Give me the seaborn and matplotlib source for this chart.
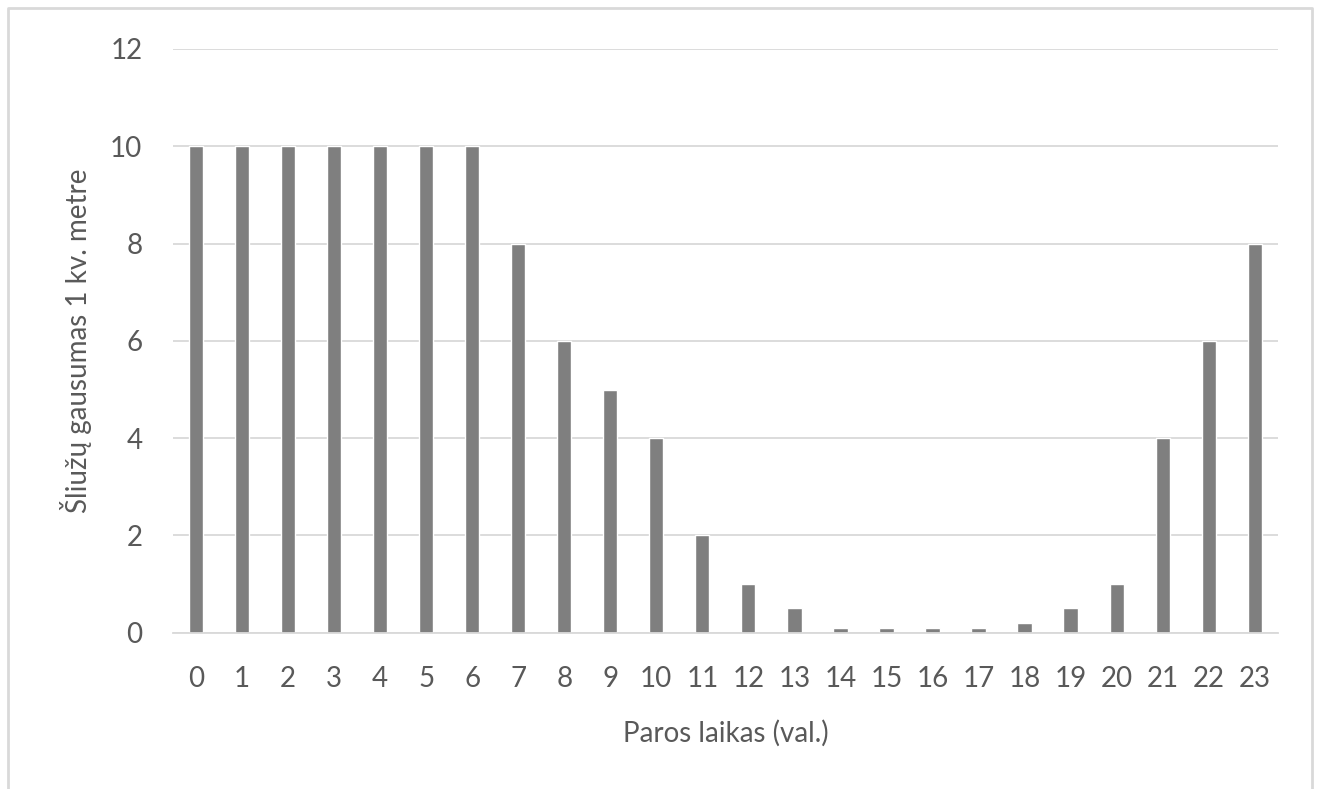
import matplotlib.pyplot as plt
import matplotlib as mpl
import pandas as pd
import seaborn as sns

hours = [str(h) for h in range(24)]
density = [10, 10, 10, 10, 10, 10, 10, 8, 6, 5, 4, 2, 1, 0.5,
           0.1, 0.1, 0.1, 0.1, 0.2, 0.5, 1, 4, 6, 8]
y_ticks = [0, 2, 4, 6, 8, 10, 12]

sns.set_style('white')
mpl.rcParams['font.family'] = ['Lato', 'DejaVu Sans']

df = pd.DataFrame({'hour': hours, 'density': density})

fig = plt.figure(figsize=(13.2, 7.89), dpi=100)
ax = fig.add_axes([0.131, 0.198, 0.837, 0.740])

sns.barplot(data=df, x='hour', y='density', order=hours, color='#7f7f7f',
            saturation=1, width=0.31, ax=ax)

txt = '#595959'
fs = 20
ax.set_ylim(0, 12)
ax.set_xlim(-0.5, 23.5)
ax.set_yticks(y_ticks)
ax.yaxis.grid(True, color='#d9d9d9', lw=1.3)
ax.set_axisbelow(True)
ax.tick_params(axis='both', length=0, labelsize=fs, colors=txt)
ax.tick_params(axis='x', pad=24)
ax.tick_params(axis='y', pad=22)
ax.set_xlabel('Paros laikas (val.)', fontsize=fs, color=txt, labelpad=20)
ax.set_ylabel('Šliužų gausumas 1 kv. metre', fontsize=fs, color=txt, labelpad=13)
for s in ['top', 'right', 'left']:
    ax.spines[s].set_visible(False)
ax.spines['bottom'].set_color('#d9d9d9')
ax.spines['bottom'].set_linewidth(1.3)

# outer chart border
fig.add_artist(plt.Line2D([0.006, 0.006, 0.994, 0.994], [0.0, 0.99, 0.99, 0.0],
                          transform=fig.transFigure, color='#d9d9d9', lw=2))

fig.savefig('out.png', dpi=100, facecolor='white')
